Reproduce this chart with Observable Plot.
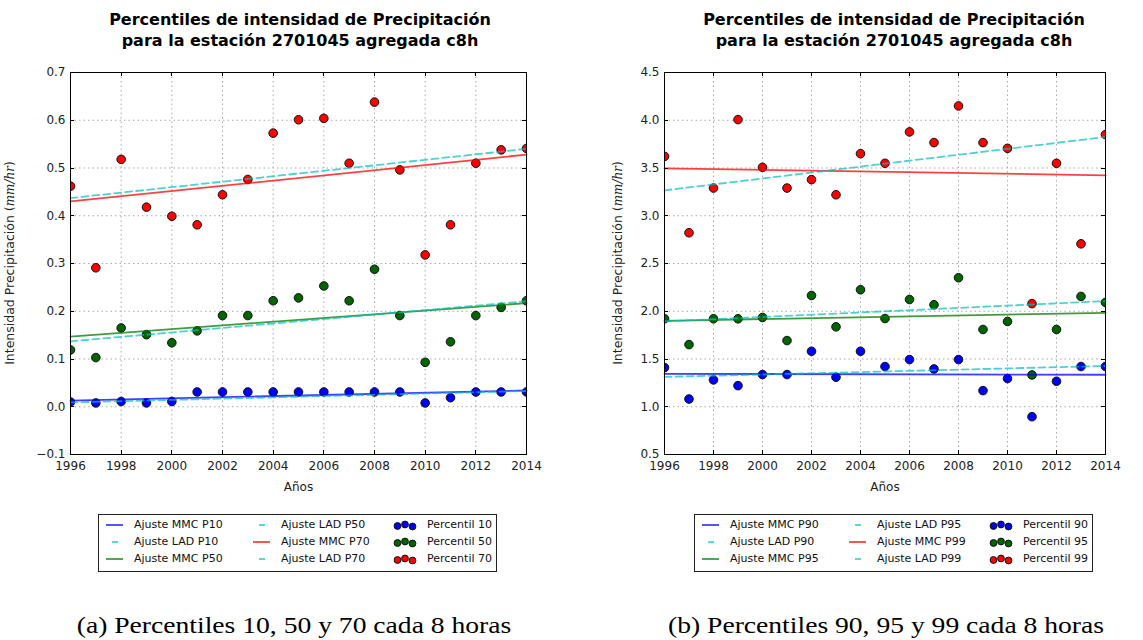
<!DOCTYPE html>
<html>
<head>
<meta charset="utf-8">
<script src="https://cdn.jsdelivr.net/npm/d3@7"></script>
<script src="https://cdn.jsdelivr.net/npm/@observablehq/plot@0.6"></script>
<style>
  body { margin: 0; width: 1143px; height: 640px; background: #fff; position: relative; overflow: hidden; font-family: "DejaVu Sans", sans-serif; }
  .title { position: absolute; top: 9px; width: 600px; font-weight: bold; font-size: 16px; line-height: 21px; text-align: center; color: #000; white-space: nowrap; }
  .panel { position: absolute; top: 55px; }
  .legend { position: absolute; top: 514px; width: 399px; height: 58px; border: 1.5px solid #222; box-sizing: border-box; font-size: 11px; color: #111; }
  .legend .item { position: absolute; height: 14px; display: flex; align-items: center; white-space: nowrap; }
  .legend svg { position: absolute; left: 0; top: 0; overflow: visible; }
  .legend span { position: absolute; left: 28px; top: 0; line-height: 14px; }
  .caption { position: absolute; top: 613px; font-family: "Liberation Serif", serif; font-size: 24px; line-height: 24px; white-space: nowrap; transform: translateX(-50%) scaleX(1.15); color: #000; }
</style>
</head>
<body>
<script>
// Years of record
const years = [1996, 1997, 1998, 1999, 2000, 2001, 2002, 2003, 2004, 2005, 2006, 2007, 2008, 2009, 2010, 2011, 2012, 2013, 2014];

// Percentile intensities (mm/hr), 8-hour aggregation
const p10 = [0.010, 0.008, 0.011, 0.008, 0.011, 0.031, 0.031, 0.031, 0.031, 0.031, 0.031, 0.031, 0.031, 0.031, 0.008, 0.019, 0.031, 0.031, 0.031];
const p50 = [0.119, 0.103, 0.165, 0.151, 0.134, 0.159, 0.191, 0.191, 0.222, 0.228, 0.253, 0.222, 0.288, 0.191, 0.093, 0.136, 0.191, 0.208, 0.222];
const p70 = [0.462, 0.291, 0.518, 0.418, 0.399, 0.381, 0.444, 0.476, 0.573, 0.601, 0.604, 0.510, 0.638, 0.496, 0.318, 0.381, 0.510, 0.538, 0.541];
const p90 = [1.410, 1.081, 1.281, 1.221, 1.337, 1.337, 1.581, 1.309, 1.581, 1.421, 1.494, 1.396, 1.494, 1.169, 1.295, 0.896, 1.267, 1.421, 1.421];
const p95 = [1.921, 1.651, 1.921, 1.921, 1.935, 1.693, 2.165, 1.837, 2.225, 1.924, 2.123, 2.068, 2.351, 1.809, 1.893, 1.333, 1.809, 2.155, 2.092];
const p99 = [3.622, 2.822, 3.290, 4.007, 3.507, 3.290, 3.378, 3.220, 3.650, 3.549, 3.878, 3.766, 4.150, 3.766, 3.706, 2.080, 3.549, 2.706, 3.850];

// Fitted trend lines: value at the first and last year [start, end]
const mmcP10 = [0.013, 0.034];
const ladP10 = [0.009, 0.033];
const mmcP50 = [0.147, 0.217];
const ladP50 = [0.137, 0.221];
const mmcP70 = [0.430, 0.528];
const ladP70 = [0.437, 0.540];
const mmcP90 = [1.345, 1.335];
const ladP90 = [1.312, 1.427];
const mmcP95 = [1.900, 1.984];
const ladP95 = [1.893, 2.106];
const mmcP99 = [3.497, 3.423];
const ladP99 = [3.266, 3.825];

// Axis ticks
const xTicks = [1996, 1998, 2000, 2002, 2004, 2006, 2008, 2010, 2012, 2014];
const yTicksA = [-0.1, 0.0, 0.1, 0.2, 0.3, 0.4, 0.5, 0.6, 0.7];
const yTicksB = [0.5, 1.0, 1.5, 2.0, 2.5, 3.0, 3.5, 4.0, 4.5];

// Text
const titleText = ["Percentiles de intensidad de Precipitación", "para la estación 2701045 agregada c8h"];
const xLabel = "Años";
const captionA = "(a) Percentiles 10, 50 y 70 cada 8 horas";
const captionB = "(b) Percentiles 90, 95 y 99 cada 8 horas";

const BLUE = "#0000ff", GREEN = "#007a00", RED = "#ff0000", CYAN = "#00bfbf";
const DOT_GREEN = "#006400";

const fmt = d3.format(".1f");

function points(values) {
  return years.map((yr, i) => ({year: yr, value: values[i]}));
}
function fitLine(ends) {
  return [{year: years[0], value: ends[0]}, {year: years[years.length - 1], value: ends[1]}];
}

// inward ticks on all four sides of the frame
function innerTicks(xt, yt) {
  return (index, scales, values, dims) => {
    const {x, y} = scales;
    const top = dims.marginTop, bottom = dims.height - dims.marginBottom;
    const left = dims.marginLeft, right = dims.width - dims.marginRight;
    const g = d3.create("svg:g").attr("stroke", "#000").attr("stroke-width", 1);
    for (const t of xt) {
      const px = Math.round(x(t)) + 0.5;
      g.append("line").attr("x1", px).attr("x2", px).attr("y1", bottom).attr("y2", bottom - 4);
      g.append("line").attr("x1", px).attr("x2", px).attr("y1", top).attr("y2", top + 4);
    }
    for (const t of yt) {
      const py = Math.round(y(t)) + 0.5;
      g.append("line").attr("x1", left).attr("x2", left + 4).attr("y1", py).attr("y2", py);
      g.append("line").attr("x1", right).attr("x2", right - 4).attr("y1", py).attr("y2", py);
    }
    return g.node();
  };
}

// rotated y label with the unit in math italics
function yLabel(xpos) {
  return (index, scales, values, dims) => {
    const cy = (dims.marginTop + dims.height - dims.marginBottom) / 2;
    const t = d3.create("svg:text")
      .attr("transform", `translate(${xpos},${cy}) rotate(-90)`)
      .attr("text-anchor", "middle")
      .attr("dominant-baseline", "middle")
      .attr("font-size", 12.5)
      .attr("fill", "#222");
    t.append("tspan").text("Intensidad Precipitación (");
    t.append("tspan").attr("font-style", "italic").attr("font-family", "DejaVu Serif").attr("font-size", 12).text("mm/hr");
    t.append("tspan").text(")");
    return t.node();
  };
}

function panel({left, width, marginRight, yDomain, yTicks, lines, dots, labelX}) {
  const lineMarks = lines.map(l => Plot.line(fitLine(l.ends), {
    x: "year", y: "value", stroke: l.color, strokeWidth: 1.8,
    strokeOpacity: l.dash ? 0.7 : 0.75,
    strokeDasharray: l.dash ? "7,4" : null
  }));
  const dotMarks = dots.map(d => Plot.dot(points(d.values), {
    x: "year", y: "value", r: 4.3, fill: d.color, stroke: "#111", strokeWidth: 1, clip: true
  }));
  const chart = Plot.plot({
    width, height: 450,
    marginLeft: 70, marginRight, marginTop: 17, marginBottom: 51,
    style: {fontFamily: "DejaVu Sans", fontSize: "12px", color: "#222", background: "transparent"},
    x: {domain: [1996, 2014]},
    y: {domain: yDomain},
    marks: [
      Plot.gridX(xTicks, {stroke: "#aaa", strokeOpacity: 1, strokeDasharray: "1.5,3"}),
      Plot.gridY(yTicks, {stroke: "#aaa", strokeOpacity: 1, strokeDasharray: "1.5,3"}),
      ...dotMarks,
      ...lineMarks,
      Plot.frame({stroke: "#000", strokeWidth: 1}),
      innerTicks(xTicks, yTicks),
      Plot.axisX(xTicks, {tickSize: 0, tickPadding: 7, tickFormat: d => String(d), label: null, fontSize: 12}),
      Plot.axisY(yTicks, {tickSize: 0, tickPadding: 5, tickFormat: fmt, label: null, fontSize: 12}),
      Plot.text([xLabel], {text: d => d, frameAnchor: "bottom", dy: 36, fontSize: 12, fill: "#222"}),
      yLabel(labelX)
    ]
  });
  const div = document.createElement("div");
  div.className = "panel";
  div.style.left = left + "px";
  div.appendChild(chart);
  document.body.appendChild(div);
}

function title(center) {
  const div = document.createElement("div");
  div.className = "title";
  div.style.left = (center - 300) + "px";
  div.innerHTML = titleText.join("<br>");
  document.body.appendChild(div);
}

function legend(left, entries) {
  const box = document.createElement("div");
  box.className = "legend";
  box.style.left = left + "px";
  const colX = [7, 154, 295];
  const rowY = [3, 20, 37];
  entries.forEach((e, i) => {
    const col = Math.floor(i / 3), row = i % 3;
    const item = document.createElement("div");
    item.className = "item";
    item.style.left = colX[col] + "px";
    item.style.top = rowY[row] + "px";
    const svg = d3.create("svg").attr("width", 24).attr("height", 14);
    if (e.kind === "line") {
      svg.append("line").attr("x1", 0).attr("x2", 17).attr("y1", 7).attr("y2", 7)
        .attr("stroke", e.color).attr("stroke-width", 1.8).attr("stroke-opacity", 0.75);
    } else if (e.kind === "dash") {
      svg.append("line").attr("x1", 6).attr("x2", 12).attr("y1", 7).attr("y2", 7)
        .attr("stroke", e.color).attr("stroke-width", 1.8).attr("stroke-opacity", 0.7);
    } else {
      [[3.5, 8], [11, 6.5], [18.5, 8.5]].forEach(([cx, cy]) =>
        svg.append("circle").attr("cx", cx).attr("cy", cy).attr("r", 3.4)
          .attr("fill", e.color).attr("stroke", "#111").attr("stroke-width", 1));
    }
    item.appendChild(svg.node());
    const s = document.createElement("span");
    s.textContent = e.label;
    s.style.left = (e.kind === "dots" ? 33 : 28) + "px";
    item.appendChild(s);
    box.appendChild(item);
  });
  document.body.appendChild(box);
}

function caption(center, text) {
  const div = document.createElement("div");
  div.className = "caption";
  div.style.left = center + "px";
  div.textContent = text;
  document.body.appendChild(div);
}

// Panel (a): percentiles 10, 50, 70
title(300);
panel({
  left: 0, width: 560, marginRight: 34,
  yDomain: [-0.1, 0.7], yTicks: yTicksA, labelX: 10,
  lines: [
    {ends: mmcP10, color: BLUE}, {ends: ladP10, color: CYAN, dash: true},
    {ends: mmcP50, color: GREEN}, {ends: ladP50, color: CYAN, dash: true},
    {ends: mmcP70, color: RED}, {ends: ladP70, color: CYAN, dash: true}
  ],
  dots: [{values: p10, color: BLUE}, {values: p50, color: DOT_GREEN}, {values: p70, color: RED}]
});
legend(98, [
  {kind: "line", color: BLUE, label: "Ajuste MMC P10"},
  {kind: "dash", color: CYAN, label: "Ajuste LAD P10"},
  {kind: "line", color: GREEN, label: "Ajuste MMC P50"},
  {kind: "dash", color: CYAN, label: "Ajuste LAD P50"},
  {kind: "line", color: RED, label: "Ajuste MMC P70"},
  {kind: "dash", color: CYAN, label: "Ajuste LAD P70"},
  {kind: "dots", color: BLUE, label: "Percentil 10"},
  {kind: "dots", color: DOT_GREEN, label: "Percentil 50"},
  {kind: "dots", color: RED, label: "Percentil 70"}
]);
caption(294, captionA);

// Panel (b): percentiles 90, 95, 99
title(894);
panel({
  left: 594, width: 549, marginRight: 38,
  yDomain: [0.5, 4.5], yTicks: yTicksB, labelX: 24,
  lines: [
    {ends: mmcP90, color: BLUE}, {ends: ladP90, color: CYAN, dash: true},
    {ends: mmcP95, color: GREEN}, {ends: ladP95, color: CYAN, dash: true},
    {ends: mmcP99, color: RED}, {ends: ladP99, color: CYAN, dash: true}
  ],
  dots: [{values: p90, color: BLUE}, {values: p95, color: DOT_GREEN}, {values: p99, color: RED}]
});
legend(694, [
  {kind: "line", color: BLUE, label: "Ajuste MMC P90"},
  {kind: "dash", color: CYAN, label: "Ajuste LAD P90"},
  {kind: "line", color: GREEN, label: "Ajuste MMC P95"},
  {kind: "dash", color: CYAN, label: "Ajuste LAD P95"},
  {kind: "line", color: RED, label: "Ajuste MMC P99"},
  {kind: "dash", color: CYAN, label: "Ajuste LAD P99"},
  {kind: "dots", color: BLUE, label: "Percentil 90"},
  {kind: "dots", color: DOT_GREEN, label: "Percentil 95"},
  {kind: "dots", color: RED, label: "Percentil 99"}
]);
caption(886, captionB);
</script>
</body>
</html>
